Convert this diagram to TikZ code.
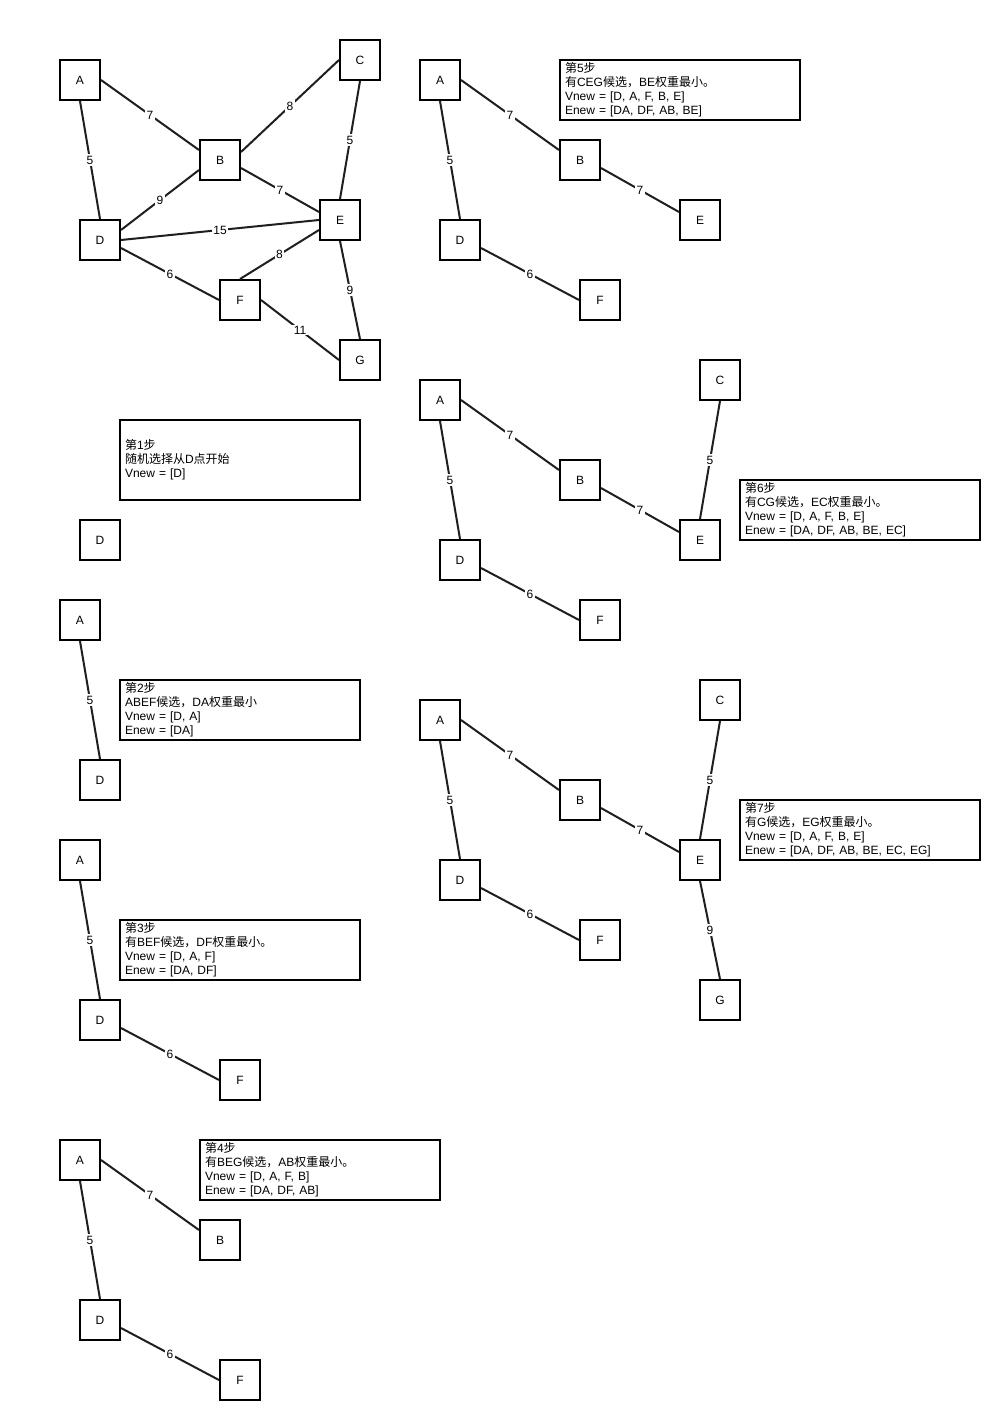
\documentclass[tikz,border=0pt]{standalone}
\usepackage{fontspec}
\setmainfont{Liberation Sans}
\newfontfamily\cjk{Noto Sans CJK SC}
\newcommand\zh[1]{{\cjk #1}}
\tikzset{
  vbox/.style={draw, line width=1.5pt, minimum size=30pt, inner sep=0pt, font=\fontsize{9}{10.5}\selectfont},
  edge/.style={draw, line width=1.5pt, color=black!88},
  wl/.style={fill=white, inner sep=1pt, text=black, font=\fontsize{9}{10.5}\selectfont},
  note/.style={draw, line width=1.5pt, anchor=north west, outer sep=0pt, minimum width=180pt, text width=172.5pt, inner xsep=3.75pt, inner ysep=0pt, align=left, font=\fontsize{9}{10.5}\selectfont},
}
\newcommand\eAB[1]{\draw[edge] (#1A.east) -- node[wl]{7} ([yshift=7.5pt]#1B.west);}
\newcommand\eAD[1]{\draw[edge] (#1A.south) -- node[wl]{5} (#1D.north);}
\newcommand\eBC[1]{\draw[edge] ([yshift=6pt]#1B.east) -- node[wl]{8} (#1C.west);}
\newcommand\eBE[1]{\draw[edge] ([yshift=-6pt]#1B.east) -- node[wl]{7} ([yshift=6pt]#1E.west);}
\newcommand\eBD[1]{\draw[edge] ([yshift=-7.5pt]#1B.west) -- node[wl]{9} ([yshift=7.5pt]#1D.east);}
\newcommand\eCE[1]{\draw[edge] (#1C.south) -- node[wl]{5} (#1E.north);}
\newcommand\eDE[1]{\draw[edge] (#1D.east) -- node[wl]{15} (#1E.west);}
\newcommand\eDF[1]{\draw[edge] ([yshift=-6pt]#1D.east) -- node[wl]{6} (#1F.west);}
\newcommand\eEF[1]{\draw[edge] ([yshift=-7.5pt]#1E.west) -- node[wl]{8} (#1F.north);}
\newcommand\eEG[1]{\draw[edge] (#1E.south) -- node[wl]{9} (#1G.north);}
\newcommand\eFG[1]{\draw[edge] (#1F.east) -- node[wl]{11} (#1G.west);}
\begin{document}
\begin{tikzpicture}[x=0.75pt,y=-0.75pt]
\path[fill=white] (0,0) rectangle (1000,1420);
\useasboundingbox (0,0) rectangle (1000,1420);
% ---------- full graph
\node[vbox] (mA) at (80,80) {A};
\node[vbox] (mB) at (220,160) {B};
\node[vbox] (mC) at (360,60) {C};
\node[vbox] (mD) at (100,240) {D};
\node[vbox] (mE) at (340,220) {E};
\node[vbox] (mF) at (240,300) {F};
\node[vbox] (mG) at (360,360) {G};
\eAB{m}\eAD{m}\eBC{m}\eBE{m}\eBD{m}\eCE{m}\eDE{m}\eDF{m}\eEF{m}\eEG{m}\eFG{m}
% ---------- step 1
\node[note, minimum height=60pt] (n1) at (120,420) {\zh{第}1\zh{步}\\\zh{随机选择从}D\zh{点开始}\\Vnew = [D]};
\node[vbox] (aD) at (100,540) {D};
% ---------- step 2
\node[vbox] (bA) at (80,620) {A};
\node[vbox] (bD) at (100,780) {D};
\eAD{b}
\node[note, minimum height=45pt] (n2) at (120,680) {\zh{第}2\zh{步}\\ABEF\zh{候选，}DA\zh{权重最小}\\Vnew = [D, A]\\Enew = [DA]};
% ---------- step 3
\node[vbox] (cA) at (80,860) {A};
\node[vbox] (cD) at (100,1020) {D};
\node[vbox] (cF) at (240,1080) {F};
\eAD{c}\eDF{c}
\node[note, minimum height=45pt] (n3) at (120,920) {\zh{第}3\zh{步}\\\zh{有}BEF\zh{候选，}DF\zh{权重最小。}\\Vnew = [D, A, F]\\Enew = [DA, DF]};
% ---------- step 4
\node[vbox] (dA) at (80,1160) {A};
\node[vbox] (dB) at (220,1240) {B};
\node[vbox] (dD) at (100,1320) {D};
\node[vbox] (dF) at (240,1380) {F};
\eAB{d}\eAD{d}\eDF{d}
\node[note, minimum height=45pt] (n4) at (200,1140) {\zh{第}4\zh{步}\\\zh{有}BEG\zh{候选，}AB\zh{权重最小。}\\Vnew = [D, A, F, B]\\Enew = [DA, DF, AB]};
% ---------- step 5
\node[vbox] (eA) at (440,80) {A};
\node[vbox] (eB) at (580,160) {B};
\node[vbox] (eD) at (460,240) {D};
\node[vbox] (eE) at (700,220) {E};
\node[vbox] (eF) at (600,300) {F};
\eAB{e}\eAD{e}\eBE{e}\eDF{e}
\node[note, minimum height=45pt] (n5) at (560,60) {\zh{第}5\zh{步}\\\zh{有}CEG\zh{候选，}BE\zh{权重最小。}\\Vnew = [D, A, F, B, E]\\Enew = [DA, DF, AB, BE]};
% ---------- step 6
\node[vbox] (fA) at (440,400) {A};
\node[vbox] (fB) at (580,480) {B};
\node[vbox] (fC) at (720,380) {C};
\node[vbox] (fD) at (460,560) {D};
\node[vbox] (fE) at (700,540) {E};
\node[vbox] (fF) at (600,620) {F};
\eAB{f}\eAD{f}\eBE{f}\eCE{f}\eDF{f}
\node[note, minimum height=45pt] (n6) at (740,480) {\zh{第}6\zh{步}\\\zh{有}CG\zh{候选，}EC\zh{权重最小。}\\Vnew = [D, A, F, B, E]\\Enew = [DA, DF, AB, BE, EC]};
% ---------- step 7
\node[vbox] (gA) at (440,720) {A};
\node[vbox] (gB) at (580,800) {B};
\node[vbox] (gC) at (720,700) {C};
\node[vbox] (gD) at (460,880) {D};
\node[vbox] (gE) at (700,860) {E};
\node[vbox] (gF) at (600,940) {F};
\node[vbox] (gG) at (720,1000) {G};
\eAB{g}\eAD{g}\eBE{g}\eCE{g}\eDF{g}\eEG{g}
\node[note, minimum height=45pt] (n7) at (740,800) {\zh{第}7\zh{步}\\\zh{有}G\zh{候选，}EG\zh{权重最小。}\\Vnew = [D, A, F, B, E]\\Enew = [DA, DF, AB, BE, EC, EG]};
\end{tikzpicture}
\end{document}
